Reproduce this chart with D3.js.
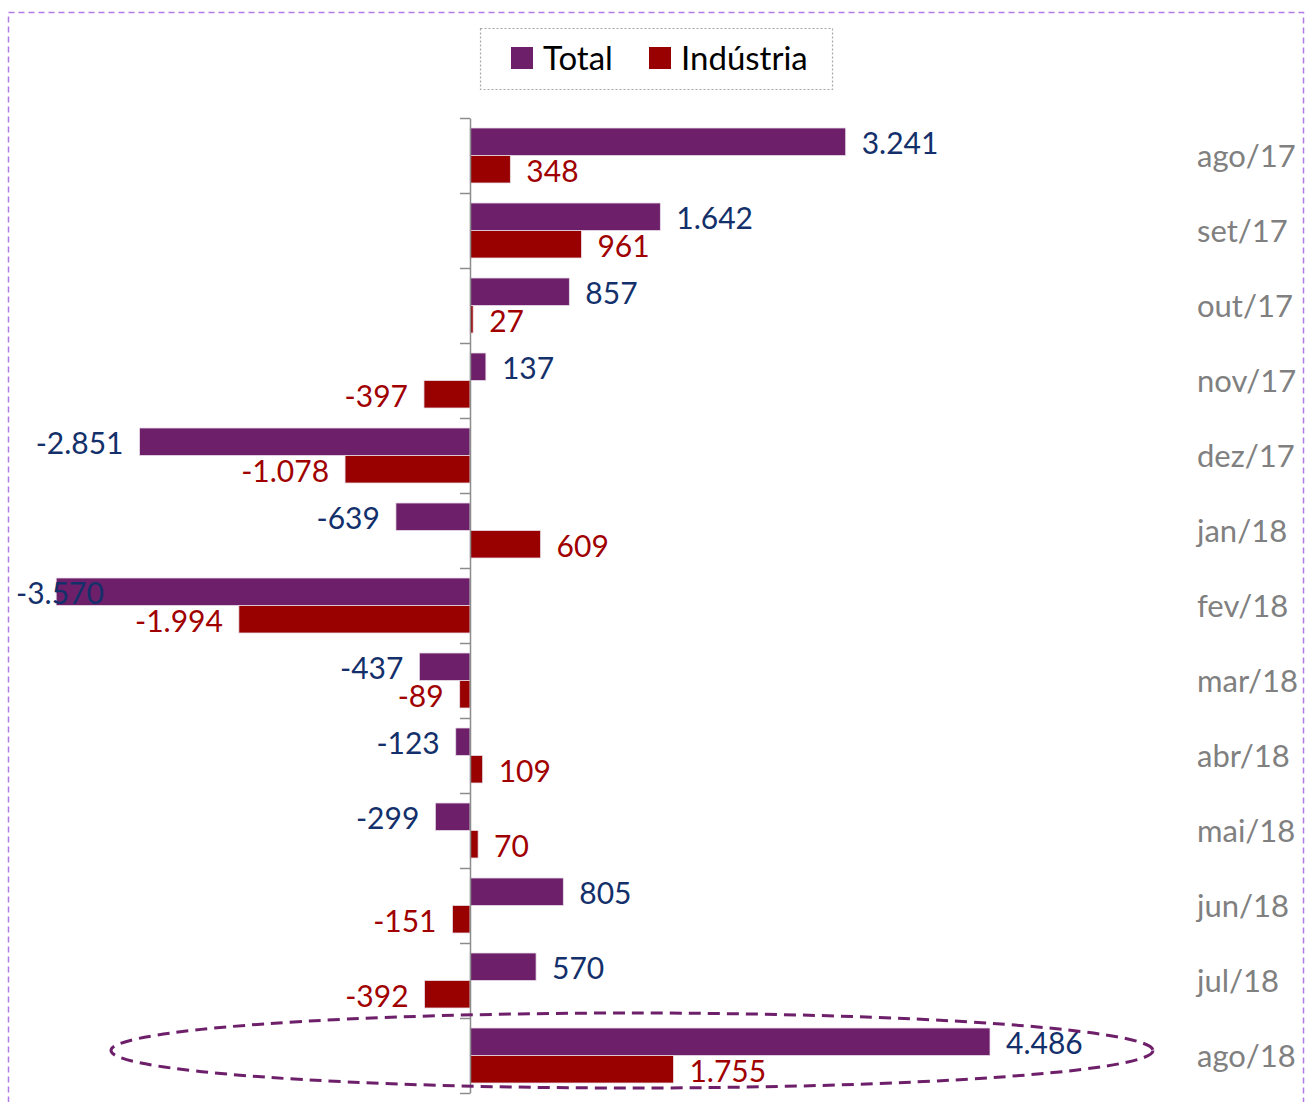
<!DOCTYPE html>
<html>
<head>
<meta charset="utf-8">
<script src="https://cdn.jsdelivr.net/npm/d3@7"></script>
<style>
  body { margin: 0; background: #fff; }
  svg { font-family: Lato, "Open Sans", sans-serif; }
</style>
</head>
<body>
<svg id="chart" width="1306" height="1102"></svg>
<script>
const months = ["ago/17", "set/17", "out/17", "nov/17", "dez/17", "jan/18", "fev/18",
  "mar/18", "abr/18", "mai/18", "jun/18", "jul/18", "ago/18"];
const total = [3241, 1642, 857, 137, -2851, -639, -3570, -437, -123, -299, 805, 570, 4486];
const industria = [348, 961, 27, -397, -1078, 609, -1994, -89, 109, 70, -151, -392, 1755];
const seriesNames = ["Total", "Indústria"];

const barColors = ["#6d1f6a", "#990000"];
const labelColors = ["#13306b", "#a00000"];

const svg = d3.select("#chart");

// outer dashed frame
svg.append("rect")
  .attr("x", 8.5).attr("y", 12.5)
  .attr("width", 1295).attr("height", 1100)
  .attr("fill", "none")
  .attr("stroke", "#b07be6")
  .attr("stroke-width", 1.5)
  .attr("stroke-dasharray", "6 4");

// scales
const k = 520 / 4486;
const xScale = d3.scaleLinear().domain([-4000, 5000]).range([470 - 4000 * k, 470 + 5000 * k]);
const yScale = d3.scaleBand().domain(months).range([118, 1093]);
const ySub = d3.scaleBand().domain(seriesNames).range([10, 65]);

const ptBR = d3.formatLocale({decimal: ",", thousands: ".", grouping: [3], currency: ["R$", ""], minus: "-"});
const fmt = ptBR.format(",d");

const rows = months.map((m, i) => ({month: m, values: [total[i], industria[i]]}));

// bars
const groups = svg.selectAll("g.row")
  .data(rows).enter()
  .append("g")
  .attr("class", "row")
  .attr("transform", d => `translate(0, ${yScale(d.month)})`);

groups.selectAll("rect")
  .data(d => d.values.map((v, j) => ({v, j})))
  .enter().append("rect")
  .attr("x", d => xScale(Math.min(0, d.v)))
  .attr("y", d => ySub(seriesNames[d.j]))
  .attr("width", d => Math.abs(xScale(d.v) - xScale(0)))
  .attr("height", ySub.bandwidth())
  .attr("fill", d => barColors[d.j])
  .attr("stroke", "#e8dde8")
  .attr("stroke-width", 0.8);

// value labels
groups.selectAll("text.val")
  .data(d => d.values.map((v, j) => ({v, j})))
  .enter().append("text")
  .attr("class", "val")
  .attr("y", d => ySub(seriesNames[d.j]) + ySub.bandwidth() / 2)
  .attr("dy", "0.42em")
  .attr("font-size", 30)
  .attr("fill", d => labelColors[d.j])
  .text(d => fmt(d.v))
  .each(function(d) {
    const w = this.getComputedTextLength();
    let x = d.v >= 0 ? xScale(d.v) + 16 : xScale(d.v) - 16 - w;
    if (x < 16) x = 16;
    d3.select(this).attr("x", x);
  });

// category labels on the right
groups.append("text")
  .attr("x", 1197)
  .attr("y", yScale.bandwidth() / 2)
  .attr("dy", "0.36em")
  .attr("font-size", 31)
  .attr("fill", "#808080")
  .text(d => d.month);

// axis at zero
const tickScale = d3.scaleLinear().domain([0, months.length]).range([118, 1093]);
const yAxis = d3.axisLeft(tickScale)
  .tickValues(d3.range(months.length + 1))
  .tickSizeOuter(0).tickSizeInner(10)
  .tickFormat("");
const axisG = svg.append("g")
  .attr("id", "yAxisG")
  .attr("transform", `translate(${xScale(0)}, 0)`)
  .call(yAxis);
axisG.selectAll("path, line").attr("stroke", "#8c8c8c").attr("stroke-width", 1.5);

// highlight ellipse around the last month
const last = months[months.length - 1];
svg.append("ellipse")
  .attr("cx", 632)
  .attr("cy", yScale(last) + yScale.bandwidth() / 2 - 5)
  .attr("rx", 521)
  .attr("ry", 37.5)
  .attr("fill", "none")
  .attr("stroke", "#6d1f6a")
  .attr("stroke-width", 3)
  .attr("stroke-dasharray", "12 7");

// legend
const legend = svg.append("g");
legend.append("rect")
  .attr("x", 480.5).attr("y", 28.5)
  .attr("width", 352).attr("height", 61)
  .attr("fill", "none")
  .attr("stroke", "#a6a6a6")
  .attr("stroke-width", 1.2)
  .attr("stroke-dasharray", "2 2");

const legendX = [511, 649];
seriesNames.forEach((name, i) => {
  legend.append("rect")
    .attr("x", legendX[i]).attr("y", 47)
    .attr("width", 22).attr("height", 22)
    .attr("fill", barColors[i]);
  legend.append("text")
    .attr("x", legendX[i] + 32)
    .attr("y", 58)
    .attr("dy", "0.36em")
    .attr("font-size", 33)
    .attr("fill", "#000")
    .text(name);
});
</script>
</body>
</html>
